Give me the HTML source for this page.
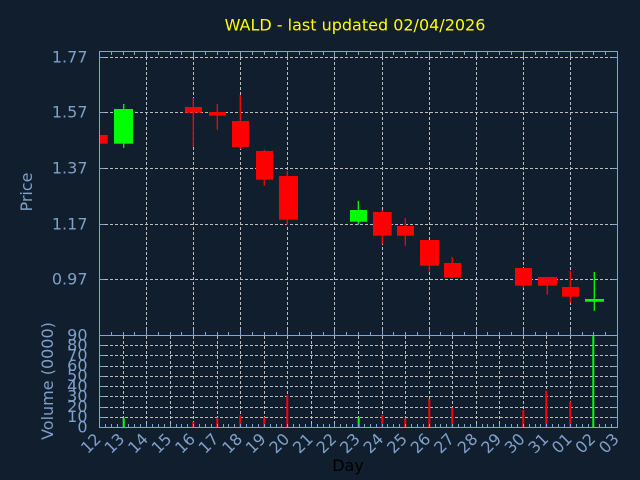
<!DOCTYPE html>
<html><head><meta charset="utf-8">
<style>
html,body{margin:0;padding:0;background:#111e2e;}
svg{display:block;}
text{font-family:"DejaVu Sans","Liberation Sans",sans-serif;font-size:16px;}
</style></head>
<body>
<svg width="640" height="480" viewBox="0 0 640 480" xmlns="http://www.w3.org/2000/svg">
<rect x="0" y="0" width="640" height="480" fill="#111e2e"/>
<defs>
<clipPath id="pc"><rect x="99.5" y="51.5" width="518" height="284"/></clipPath>
</defs>
<text x="355" y="30.5" text-anchor="middle" fill="#ffff00">WALD - last updated 02/04/2026</text>
<g stroke="#bdbdbd" stroke-width="1" stroke-dasharray="3,2" fill="none">
<path d="M100 57.5H617M100 112.5H617M100 168.5H617M100 224.5H617M100 279.5H617"/>
<path d="M146.5 52V335M193.5 52V335M240.5 52V335M287.5 52V335M334.5 52V335M382.5 52V335M429.5 52V335M476.5 52V335M523.5 52V335M570.5 52V335"/>
<path d="M100 345.5H617M100 355.5H617M100 366.5H617M100 376.5H617M100 386.5H617M100 396.5H617M100 407.5H617M100 417.5H617"/>
<path d="M123.5 336V427M146.5 336V427M170.5 336V427M193.5 336V427M217.5 336V427M240.5 336V427M264.5 336V427M287.5 336V427M311.5 336V427M334.5 336V427M358.5 336V427M382.5 336V427M405.5 336V427M429.5 336V427M452.5 336V427M476.5 336V427M499.5 336V427M523.5 336V427M546.5 336V427M570.5 336V427M593.5 336V427"/>
</g>
<g clip-path="url(#pc)">
<g stroke-width="1.3">
<path stroke="#00ff00" d="M123.7 104V147.7M358.3 201V224.7M594.3 272V310.7"/>
<path stroke="#ff0000" d="M193.3 98V147M217.3 104V129.7M240.3 95V149M264.3 150V185.7M287.3 171V225M382.3 210V243.7M405.3 218V245.7M429.3 240V271.7M452.3 257V277.7M523.3 268V287.7M547.3 277V294.7M570.3 270.7V302.7"/>
</g>
<rect x="91" y="135" width="16.7" height="8.7" fill="#ff0000"/>
<rect x="114" y="109" width="19" height="34.7" fill="#00ff00"/>
<rect x="185" y="107" width="17" height="5.7" fill="#ff0000"/>
<rect x="209" y="112" width="17" height="3.7" fill="#ff0000"/>
<rect x="232" y="121" width="17" height="26" fill="#ff0000"/>
<rect x="256" y="151" width="17" height="28.7" fill="#ff0000"/>
<rect x="279" y="176" width="19" height="43.7" fill="#ff0000"/>
<rect x="350" y="210" width="17" height="11.7" fill="#00ff00"/>
<rect x="373" y="212" width="18.7" height="23.7" fill="#ff0000"/>
<rect x="397" y="226" width="17" height="9.7" fill="#ff0000"/>
<rect x="420" y="240" width="19" height="25.7" fill="#ff0000"/>
<rect x="444" y="263" width="17" height="14.7" fill="#ff0000"/>
<rect x="515" y="268" width="17" height="17.7" fill="#ff0000"/>
<rect x="538" y="277" width="19" height="8.7" fill="#ff0000"/>
<rect x="562" y="287" width="17" height="9.7" fill="#ff0000"/>
<rect x="585" y="299" width="19" height="2.7" fill="#00ff00"/>
</g>
<g>
<rect x="122.7" y="418" width="2" height="9.3" fill="#00ff00"/>
<rect x="192.3" y="422" width="2" height="5.3" fill="#ff0000"/>
<rect x="216.3" y="417.7" width="2" height="9.6" fill="#ff0000"/>
<rect x="239.3" y="415.3" width="2" height="12" fill="#ff0000"/>
<rect x="263.3" y="417.3" width="2" height="10" fill="#ff0000"/>
<rect x="286.3" y="395.3" width="2" height="32" fill="#ff0000"/>
<rect x="357.7" y="417.3" width="2" height="10" fill="#00ff00"/>
<rect x="381.3" y="415" width="2" height="12.3" fill="#ff0000"/>
<rect x="404.3" y="418.3" width="2" height="9" fill="#ff0000"/>
<rect x="428.3" y="399" width="2" height="28.3" fill="#ff0000"/>
<rect x="451.3" y="407.7" width="2" height="19.6" fill="#ff0000"/>
<rect x="522.3" y="410" width="2" height="17.3" fill="#ff0000"/>
<rect x="545.3" y="390.7" width="2" height="36.6" fill="#ff0000"/>
<rect x="569.3" y="401.7" width="2" height="25.6" fill="#ff0000"/>
<rect x="592.3" y="335.3" width="2" height="92" fill="#00ff00"/>
</g>
<g stroke="#7fa6d6" stroke-width="1" fill="none">
<rect x="99.5" y="51.5" width="518" height="376"/>
<path d="M99.5 335.5H617.5"/>
<path d="M100 57.5h5M100 112.5h5M100 168.5h5M100 224.5h5M100 279.5h5M617 57.5h-5M617 112.5h-5M617 168.5h-5M617 224.5h-5M617 279.5h-5M100 345.5h5M100 355.5h5M100 366.5h5M100 376.5h5M100 386.5h5M100 396.5h5M100 407.5h5M100 417.5h5M617 345.5h-5M617 355.5h-5M617 366.5h-5M617 376.5h-5M617 386.5h-5M617 396.5h-5M617 407.5h-5M617 417.5h-5"/>
<path d="M111.5 52v3M123.5 52v3M134.5 52v3M146.5 52v5M158.5 52v3M170.5 52v3M181.5 52v3M193.5 52v5M205.5 52v3M217.5 52v3M228.5 52v3M240.5 52v5M252.5 52v3M264.5 52v3M276.5 52v3M287.5 52v5M299.5 52v3M311.5 52v3M323.5 52v3M334.5 52v5M346.5 52v3M358.5 52v3M370.5 52v3M382.5 52v5M393.5 52v3M405.5 52v3M417.5 52v3M429.5 52v5M440.5 52v3M452.5 52v3M464.5 52v3M476.5 52v5M487.5 52v3M499.5 52v3M511.5 52v3M523.5 52v5M535.5 52v3M546.5 52v3M558.5 52v3M570.5 52v5M582.5 52v3M593.5 52v3M605.5 52v3"/>
<path d="M111.5 335v-3M123.5 335v-3M134.5 335v-3M146.5 335v-5M158.5 335v-3M170.5 335v-3M181.5 335v-3M193.5 335v-5M205.5 335v-3M217.5 335v-3M228.5 335v-3M240.5 335v-5M252.5 335v-3M264.5 335v-3M276.5 335v-3M287.5 335v-5M299.5 335v-3M311.5 335v-3M323.5 335v-3M334.5 335v-5M346.5 335v-3M358.5 335v-3M370.5 335v-3M382.5 335v-5M393.5 335v-3M405.5 335v-3M417.5 335v-3M429.5 335v-5M440.5 335v-3M452.5 335v-3M464.5 335v-3M476.5 335v-5M487.5 335v-3M499.5 335v-3M511.5 335v-3M523.5 335v-5M535.5 335v-3M546.5 335v-3M558.5 335v-3M570.5 335v-5M582.5 335v-3M593.5 335v-3M605.5 335v-3"/>
<path d="M105.5 427v-3M111.5 427v-3M117.5 427v-3M123.5 427v-3M128.5 427v-3M134.5 427v-3M140.5 427v-3M146.5 427v-3M152.5 427v-3M158.5 427v-3M164.5 427v-3M170.5 427v-3M176.5 427v-3M181.5 427v-3M187.5 427v-3M193.5 427v-3M199.5 427v-3M205.5 427v-3M211.5 427v-3M217.5 427v-3M223.5 427v-3M228.5 427v-3M234.5 427v-3M240.5 427v-3M246.5 427v-3M252.5 427v-3M258.5 427v-3M264.5 427v-3M270.5 427v-3M276.5 427v-3M281.5 427v-3M287.5 427v-3M293.5 427v-3M299.5 427v-3M305.5 427v-3M311.5 427v-3M317.5 427v-3M323.5 427v-3M329.5 427v-3M334.5 427v-3M340.5 427v-3M346.5 427v-3M352.5 427v-3M358.5 427v-3M364.5 427v-3M370.5 427v-3M376.5 427v-3M382.5 427v-3M387.5 427v-3M393.5 427v-3M399.5 427v-3M405.5 427v-3M411.5 427v-3M417.5 427v-3M423.5 427v-3M429.5 427v-3M435.5 427v-3M440.5 427v-3M446.5 427v-3M452.5 427v-3M458.5 427v-3M464.5 427v-3M470.5 427v-3M476.5 427v-3M482.5 427v-3M487.5 427v-3M493.5 427v-3M499.5 427v-3M505.5 427v-3M511.5 427v-3M517.5 427v-3M523.5 427v-3M529.5 427v-3M535.5 427v-3M540.5 427v-3M546.5 427v-3M552.5 427v-3M558.5 427v-3M564.5 427v-3M570.5 427v-3M576.5 427v-3M582.5 427v-3M588.5 427v-3M593.5 427v-3M599.5 427v-3M605.5 427v-3M611.5 427v-3"/>
</g>
<g fill="#7fa0c8" text-anchor="end">
<text x="87.5" y="62.5">1.77</text>
<text x="87.5" y="117.5">1.57</text>
<text x="87.5" y="173.3">1.37</text>
<text x="87.5" y="229.3">1.17</text>
<text x="87.5" y="284.5">0.97</text>
<text x="87.5" y="340.3">90</text>
<text x="87.5" y="350.5">80</text>
<text x="87.5" y="360.7">70</text>
<text x="87.5" y="371">60</text>
<text x="87.5" y="381.2">50</text>
<text x="87.5" y="391.4">40</text>
<text x="87.5" y="401.6">30</text>
<text x="87.5" y="411.9">20</text>
<text x="87.5" y="422.1">10</text>
<text x="87.5" y="432.3">0</text>
</g>
<text transform="translate(32,192) rotate(-90)" text-anchor="middle" fill="#7fa0c8">Price</text>
<text transform="translate(53,381) rotate(-90)" text-anchor="middle" fill="#7fa0c8">Volume (0000)</text>
<text x="348" y="471" text-anchor="middle" fill="#000000">Day</text>
<g fill="#7fa0c8" text-anchor="end">
<text transform="translate(102.0,440) rotate(-45)">12</text>
<text transform="translate(125.5,440) rotate(-45)">13</text>
<text transform="translate(149.1,440) rotate(-45)">14</text>
<text transform="translate(172.6,440) rotate(-45)">15</text>
<text transform="translate(196.2,440) rotate(-45)">16</text>
<text transform="translate(219.7,440) rotate(-45)">17</text>
<text transform="translate(243.3,440) rotate(-45)">18</text>
<text transform="translate(266.8,440) rotate(-45)">19</text>
<text transform="translate(290.4,440) rotate(-45)">20</text>
<text transform="translate(313.9,440) rotate(-45)">21</text>
<text transform="translate(337.5,440) rotate(-45)">22</text>
<text transform="translate(361.0,440) rotate(-45)">23</text>
<text transform="translate(384.5,440) rotate(-45)">24</text>
<text transform="translate(408.1,440) rotate(-45)">25</text>
<text transform="translate(431.6,440) rotate(-45)">26</text>
<text transform="translate(455.2,440) rotate(-45)">27</text>
<text transform="translate(478.7,440) rotate(-45)">28</text>
<text transform="translate(502.3,440) rotate(-45)">29</text>
<text transform="translate(525.8,440) rotate(-45)">30</text>
<text transform="translate(549.4,440) rotate(-45)">31</text>
<text transform="translate(572.9,440) rotate(-45)">01</text>
<text transform="translate(596.4,440) rotate(-45)">02</text>
<text transform="translate(620.0,440) rotate(-45)">03</text>
</g>
</svg>
</body></html>
